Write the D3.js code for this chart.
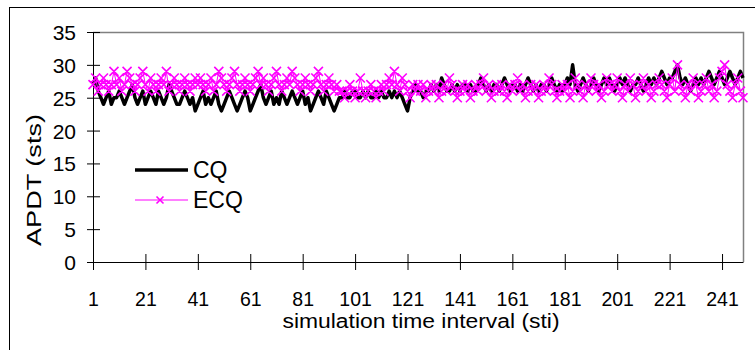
<!DOCTYPE html>
<html>
<head>
<meta charset="utf-8">
<script src="https://cdn.jsdelivr.net/npm/d3@7"></script>
<style>
  html, body { margin: 0; padding: 0; background: #fff; }
  svg { display: block; }
  text { font-family: "Liberation Sans", Arial, sans-serif; fill: #000; }
</style>
</head>
<body>
<svg id="chart" width="755" height="350"></svg>
<script>
const seriesNames = ["CQ", "ECQ"];
const xTickLabels = [1, 21, 41, 61, 81, 101, 121, 141, 161, 181, 201, 221, 241];
const yTickLabels = [0, 5, 10, 15, 20, 25, 30, 35];

const cqValues = [
  27, 28, 26, 25, 24, 25, 26, 24, 25, 25, 26, 25, 24, 25, 26, 27, 25, 24, 25, 26,
  24, 25, 26, 25, 24, 26, 25, 24, 25, 27, 26, 25, 24, 24, 25, 26, 25, 24, 25, 23,
  24, 25, 26, 24, 25, 24, 25, 26, 24, 23,
  24, 25, 26, 25, 24, 23, 24, 25, 26, 25, 23, 24, 25, 26, 27, 25, 24, 25, 26, 24,
  25, 24, 26, 25, 24, 25, 26, 25, 24, 25, 26, 24, 25, 23, 24, 25, 26, 25, 24, 26,
  25, 24, 23, 24, 25,
  25, 26, 25, 25, 26, 26, 25, 25, 26, 25, 26, 25, 25, 26, 25, 26, 25, 25, 26, 25,
  26, 25, 26, 25, 24, 23, 25, 26, 27, 26, 26, 25, 26, 26, 27,
  26, 27, 26, 28, 27, 26, 26, 27, 26, 27, 26, 27, 27, 26, 27, 26, 26, 27, 28, 27,
  26, 27, 26, 27, 27, 26, 27, 28, 27, 26, 27, 27, 26, 27, 26, 27, 28, 27, 26, 27,
  26, 27, 27, 26, 27, 28, 27, 26, 27, 26,
  27, 28, 27, 30, 27, 26, 27, 28, 27, 26, 27, 28, 27, 26, 27, 28, 27, 28, 27, 26,
  27, 28, 27, 28, 27, 26, 27, 27, 28, 27, 26, 27, 28, 27, 28, 27, 28, 29, 28, 27,
  28, 28, 29, 30, 28, 27, 28, 27, 26, 27, 28, 27, 28, 27, 28, 29, 28, 27, 28, 29,
  28, 27, 28, 29, 28, 27, 28, 29, 28
];

const ecqValues = [
  27, 28, 26, 27, 28, 27, 26, 27, 29, 27, 28, 26, 27, 29, 28, 27, 26, 27, 28, 29,
  27, 26, 28, 27, 26, 27, 28, 27, 29, 26, 27, 28, 27, 26, 27, 28, 27, 26, 27, 28,
  27, 28, 27, 26, 27, 28, 26, 27, 29, 28,
  27, 26, 27, 28, 29, 27, 26, 27, 28, 27, 26, 27, 28, 29, 27, 28, 27, 26, 27, 28,
  29, 27, 26, 27, 28, 27, 29, 28, 27, 26, 27, 28, 27, 26, 27, 28, 29, 27, 26, 27,
  28, 27, 26, 27, 26,
  26, 25, 26, 27, 26, 25, 26, 28, 26, 25, 26, 27, 26, 25, 26, 27, 26, 27, 28, 27,
  29, 27, 26, 28, 27, 26, 25, 27, 26, 27, 26, 27, 25, 26, 27,
  26, 27, 25, 26, 27, 26, 28, 27, 26, 25, 26, 27, 26, 27, 25, 26, 27, 26, 27, 28,
  26, 27, 25, 26, 27, 26, 27, 26, 25, 27, 26, 27, 28, 26, 27, 25, 26, 27, 26, 27,
  25, 26, 27, 26, 28, 27, 26, 25, 26, 27,
  26, 27, 25, 26, 28, 27, 26, 25, 27, 26, 28, 27, 26, 27, 25, 26, 28, 27, 26, 27,
  28, 26, 25, 27, 26, 28, 27, 25, 26, 27, 28, 26, 27, 25, 26, 27, 28, 27, 26, 25,
  27, 28, 26, 30, 27, 26, 25, 27, 26, 28, 27, 25, 26, 27, 28, 26, 27, 25, 26, 28,
  29, 30, 27, 26, 25, 27, 28, 26, 25
];

const svg = d3.select("#chart");
const mLeft = 93, mRight = 743, mTop = 32, mBottom = 262;
const FONT = "Liberation Sans, Arial, sans-serif";

// outer chart frame
svg.append("rect").attr("x", 9.5).attr("y", 7.5).attr("width", 800).attr("height", 400)
  .attr("fill", "none").attr("stroke", "#000").attr("stroke-width", 1);

const n = cqValues.length;
const x = d3.scaleLinear().domain([1, n]).range([mLeft, mRight]);
const y = d3.scaleLinear().domain([0, 35]).range([mBottom, mTop]);

// plot area border (gray top/right)
svg.append("path")
  .attr("d", `M${mLeft},${mTop + 0.5}H${mRight + 0.5}V${mBottom}`)
  .attr("fill", "none").attr("stroke", "#808080").attr("stroke-width", 1.5);

// Y axis
const yAxis = d3.axisLeft(y).tickValues(yTickLabels).tickSizeInner(6).tickSizeOuter(0);
const gy = svg.append("g").attr("transform", `translate(${mLeft},0)`).call(yAxis);
gy.select(".domain").attr("stroke", "#000");
gy.selectAll(".tick line").attr("x1", -6).attr("x2", 7).attr("stroke", "#000");
gy.selectAll(".tick text").attr("x", -17).attr("dy", "0.36em")
  .style("font-size", "21px").style("font-family", FONT);

// X axis
const xAxis = d3.axisBottom(x).tickValues(xTickLabels).tickSizeInner(8).tickSizeOuter(0);
const gx = svg.append("g").attr("transform", `translate(0,${mBottom})`).call(xAxis);
gx.select(".domain").attr("stroke", "#000");
gx.selectAll(".tick line").attr("y1", -8).attr("y2", 8).attr("stroke", "#000");
gx.selectAll(".tick text").attr("y", 44).attr("dy", 0)
  .style("font-size", "19.5px").style("font-family", FONT);

// Axis titles
svg.append("text").attr("x", 421).attr("y", 328).attr("text-anchor", "middle")
  .attr("textLength", 277).attr("lengthAdjust", "spacingAndGlyphs")
  .style("font-size", "19.5px").text("simulation time interval (sti)");
svg.append("text").attr("transform", `translate(41,180) rotate(-90)`).attr("text-anchor", "middle")
  .attr("textLength", 132).attr("lengthAdjust", "spacingAndGlyphs")
  .style("font-size", "20px").text("APDT (sts)");

// Lines
const line = d3.line().x((d, i) => x(i + 1)).y(d => y(d));
svg.append("path").datum(cqValues).attr("d", line)
  .attr("fill", "none").attr("stroke", "#000").attr("stroke-width", 3.5).attr("stroke-linejoin", "round");
svg.append("path").datum(ecqValues).attr("d", line)
  .attr("fill", "none").attr("stroke", "#FF00FF").attr("stroke-width", 1);

const cross = (cx, cy, s) => `M${cx - s},${cy - s}L${cx + s},${cy + s}M${cx - s},${cy + s}L${cx + s},${cy - s}`;
svg.append("path")
  .attr("d", ecqValues.map((d, i) => cross(x(i + 1), y(d), 4.5)).join(""))
  .attr("fill", "none").attr("stroke", "#FF00FF").attr("stroke-width", 1.6);

// Legend
const lg = svg.append("g");
lg.append("line").attr("x1", 135).attr("x2", 188).attr("y1", 170).attr("y2", 170)
  .attr("stroke", "#000").attr("stroke-width", 3.5);
lg.append("text").attr("x", 193).attr("y", 178).style("font-size", "23px").text(seriesNames[0]);
lg.append("line").attr("x1", 135).attr("x2", 188).attr("y1", 200).attr("y2", 200)
  .attr("stroke", "#FF00FF").attr("stroke-width", 1);
lg.append("path").attr("d", cross(160, 200, 3.5)).attr("stroke", "#FF00FF").attr("stroke-width", 1.6);
lg.append("text").attr("x", 193).attr("y", 208).style("font-size", "23px").text(seriesNames[1]);
</script>
</body>
</html>
